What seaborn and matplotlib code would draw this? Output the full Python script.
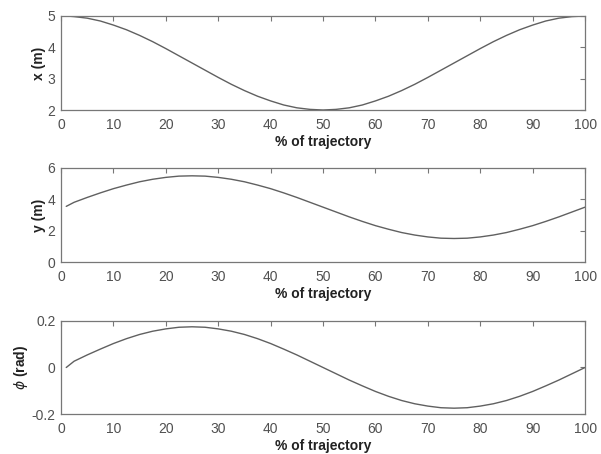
import matplotlib
matplotlib.use("Agg")
import matplotlib.pyplot as plt
import seaborn as sns
import pandas as pd

# % of trajectory
t = [1, 2.5, 5, 7.5, 10, 12.5, 15, 17.5, 20, 22.5, 25, 27.5, 30, 32.5, 35, 37.5, 40,
     42.5, 45, 47.5, 50, 52.5, 55, 57.5, 60, 62.5, 65, 67.5, 70, 72.5, 75, 77.5, 80,
     82.5, 85, 87.5, 90, 92.5, 95, 97.5, 100]
x_m = [5.00, 4.98, 4.93, 4.84, 4.71, 4.56, 4.38, 4.18, 3.96, 3.73, 3.50, 3.27, 3.04,
       2.82, 2.62, 2.44, 2.29, 2.16, 2.07, 2.02, 2.00, 2.02, 2.07, 2.16, 2.29, 2.44,
       2.62, 2.82, 3.04, 3.27, 3.50, 3.73, 3.96, 4.18, 4.38, 4.56, 4.71, 4.84, 4.93,
       4.98, 5.00]
y_m = [3.55, 3.81, 4.12, 4.41, 4.68, 4.91, 5.12, 5.28, 5.40, 5.48, 5.50, 5.48, 5.40,
       5.28, 5.12, 4.91, 4.68, 4.41, 4.12, 3.81, 3.50, 3.19, 2.88, 2.59, 2.32, 2.09,
       1.88, 1.72, 1.60, 1.52, 1.50, 1.52, 1.60, 1.72, 1.88, 2.09, 2.32, 2.59, 2.88,
       3.19, 3.50]
phi_rad = [0.000, 0.027, 0.054, 0.079, 0.103, 0.124, 0.142, 0.156, 0.166, 0.173, 0.175,
           0.173, 0.166, 0.156, 0.142, 0.124, 0.103, 0.079, 0.054, 0.027, 0.000, -0.027,
           -0.054, -0.079, -0.103, -0.124, -0.142, -0.156, -0.166, -0.173, -0.175,
           -0.173, -0.166, -0.156, -0.142, -0.124, -0.103, -0.079, -0.054, -0.027, 0.000]

x_ticks = [0, 10, 20, 30, 40, 50, 60, 70, 80, 90, 100]
x_label = "% of trajectory"
panels = [
    ("x (m)", x_m, (2, 5), [2, 3, 4, 5], ["2", "3", "4", "5"]),
    ("y (m)", y_m, (0, 6), [0, 2, 4, 6], ["0", "2", "4", "6"]),
    (r"$\phi$ (rad)", phi_rad, (-0.2, 0.2), [-0.2, 0, 0.2], ["-0.2", "0", "0.2"]),
]

sns.set_theme(style="white")
plt.rcParams["font.family"] = ["Liberation Sans", "DejaVu Sans"]
plt.rcParams["mathtext.fontset"] = "dejavusans"

fig = plt.figure(figsize=(6.01, 4.54), dpi=100)
rects = [
    [0.1015, 0.7577, 0.872, 0.2071],
    [0.1015, 0.4229, 0.872, 0.2071],
    [0.1015, 0.0881, 0.872, 0.2049],
]
grey = "#505050"
for rect, (lab, vals, ylim, yt, ytl) in zip(rects, panels):
    ax = fig.add_axes(rect)
    df = pd.DataFrame({"t": t, "v": vals})
    sns.lineplot(data=df, x="t", y="v", ax=ax, color="#606060", linewidth=1.0)
    ax.set_xlim(0, 100)
    ax.set_ylim(*ylim)
    ax.set_xticks(x_ticks)
    ax.set_xticklabels([str(v) for v in x_ticks])
    ax.set_yticks(yt)
    ax.set_yticklabels(ytl)
    ax.set_xlabel(x_label, fontsize=10, fontweight="bold", color="#222222", labelpad=2)
    ax.set_ylabel(lab, fontsize=10, fontweight="bold", color="#222222", labelpad=1)
    ax.tick_params(direction="in", top=True, right=True, length=3.5, width=0.8,
                   colors="#777777", labelcolor=grey, labelsize=10)
    ax.tick_params(axis="x", pad=6)
    ax.tick_params(axis="y", pad=4)
    for s in ax.spines.values():
        s.set_color("#777777")
        s.set_linewidth(0.9)
        s.set_visible(True)

fig.savefig("out.png", dpi=100)
